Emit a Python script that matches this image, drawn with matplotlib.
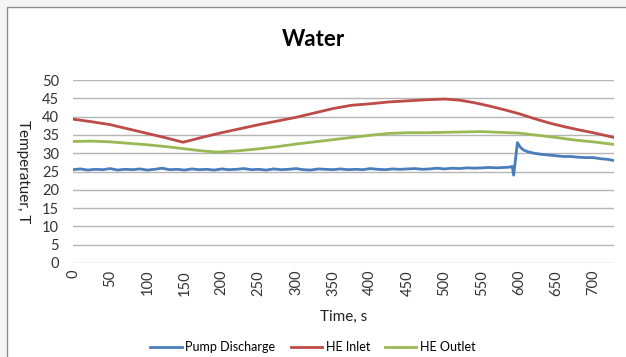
import matplotlib
matplotlib.use("Agg")
import matplotlib.pyplot as plt
from matplotlib.patches import Rectangle
import numpy as np

plt.rcParams['font.family'] = ['Lato', 'DejaVu Sans']

title = "Water"
x_label = "Time, s"
y_label = "Temperatuer, T"
series_names = ["Pump Discharge", "HE Inlet", "HE Outlet"]

inlet_t = [0, 25, 50, 75, 100, 125, 148, 160, 175, 200, 225, 250, 275, 300, 325, 350, 375,
           400, 425, 450, 475, 500, 520, 540, 560, 580, 600, 620, 640, 660, 680, 700, 728]
inlet_v = [39.3, 38.6, 37.8, 36.6, 35.4, 34.2, 33.0, 33.6, 34.4, 35.6, 36.7, 37.8, 38.8, 39.8,
           41.0, 42.2, 43.1, 43.5, 44.0, 44.3, 44.6, 44.8, 44.5, 43.8, 42.9, 41.9, 40.8, 39.5,
           38.3, 37.3, 36.4, 35.6, 34.3]

outlet_t = [0, 25, 50, 75, 100, 125, 150, 175, 195, 225, 250, 275, 300, 325, 350, 375, 400,
            425, 450, 475, 500, 525, 550, 575, 600, 625, 650, 675, 700, 728]
outlet_v = [33.2, 33.3, 33.1, 32.7, 32.3, 31.8, 31.2, 30.6, 30.3, 30.7, 31.2, 31.8, 32.5, 33.1,
            33.7, 34.3, 34.9, 35.4, 35.6, 35.6, 35.7, 35.8, 35.9, 35.7, 35.5, 34.9, 34.3, 33.6,
            33.1, 32.4]

pump_t = [0, 10, 20, 30, 40, 50, 60, 70, 80, 90, 100, 110, 120, 130, 140, 150, 160, 170, 180,
          190, 200, 210, 220, 230, 240, 250, 260, 270, 280, 290, 300, 310, 320, 330, 340, 350,
          360, 370, 380, 390, 400, 410, 420, 430, 440, 450, 460, 470, 480, 490, 500, 510, 520,
          530, 540, 550, 560, 570, 580, 588, 591, 593, 595, 598, 602, 606, 612, 620, 630, 640,
          650, 660, 670, 680, 690, 700, 710, 720, 728]
pump_v = [25.5, 25.7, 25.4, 25.6, 25.5, 25.8, 25.4, 25.6, 25.5, 25.7, 25.4, 25.6, 25.9, 25.5,
          25.6, 25.4, 25.7, 25.5, 25.6, 25.4, 25.7, 25.5, 25.6, 25.8, 25.5, 25.6, 25.4, 25.7,
          25.5, 25.6, 25.8, 25.5, 25.4, 25.7, 25.6, 25.5, 25.7, 25.5, 25.6, 25.5, 25.8, 25.6,
          25.5, 25.7, 25.6, 25.7, 25.8, 25.6, 25.7, 25.9, 25.7, 25.9, 25.8, 26.0, 25.9, 26.0,
          26.1, 26.0, 26.1, 26.2, 26.4, 24.0, 27.5, 32.9, 31.6, 30.9, 30.4, 30.0, 29.7, 29.5,
          29.3, 29.1, 29.1, 28.9, 28.8, 28.8, 28.5, 28.3, 28.0]

colors = ["#4a7ebb", "#be4b48", "#98b954"]

fig = plt.figure(figsize=(6.26, 3.57), dpi=100)
fig.patch.set_facecolor("white")
fig.patches.append(Rectangle((0, 0), 1, 1, transform=fig.transFigure,
                             facecolor="#f4f4f4", edgecolor="none", zorder=-3))
fig.patches.append(Rectangle((7/626, -0.05), 1.1, 1 - 7/357 + 0.05, transform=fig.transFigure,
                             facecolor="white", edgecolor="#8c8c8c", linewidth=1.0, zorder=-2))

ax = fig.add_axes([73/626, 1 - 263/357, 541/626, 183/357])
ax.patch.set_alpha(0)
ax.plot(pump_t, pump_v, color=colors[0], lw=2.0, label=series_names[0])
ax.plot(inlet_t, inlet_v, color=colors[1], lw=2.0, label=series_names[1])
ax.plot(outlet_t, outlet_v, color=colors[2], lw=2.0, label=series_names[2])

ax.set_xlim(0, 728)
ax.set_ylim(0, 50)
ax.set_yticks(np.arange(0, 51, 5))
ax.set_xticks(np.arange(0, 701, 50))
ax.grid(axis='y', color="#b5b5b5", lw=1.0)
ax.set_axisbelow(True)
for s in ax.spines.values():
    s.set_visible(False)
ax.tick_params(length=0, labelsize=10.5, colors="#333333")
ax.tick_params(axis='y', pad=10)
ax.tick_params(axis='x', labelrotation=90, pad=5)

ax.set_xlabel(x_label, fontsize=11, labelpad=10, color="#222222")
ax.set_ylabel(y_label, fontsize=11, rotation=270, va='center', ha='center', color="#222222")
ax.yaxis.set_label_coords(-50 / 541, 0.5)

fig.suptitle(title, x=0.5, y=1 - 40/357, va='center', fontsize=16, fontweight='bold')

ax.legend(loc='center', bbox_to_anchor=(0.5, 1 - 347/357), bbox_transform=fig.transFigure,
          ncol=3, frameon=False, fontsize=9, handlelength=2.5, handletextpad=0.3,
          columnspacing=1.2)

fig.savefig("out.png", dpi=100)
